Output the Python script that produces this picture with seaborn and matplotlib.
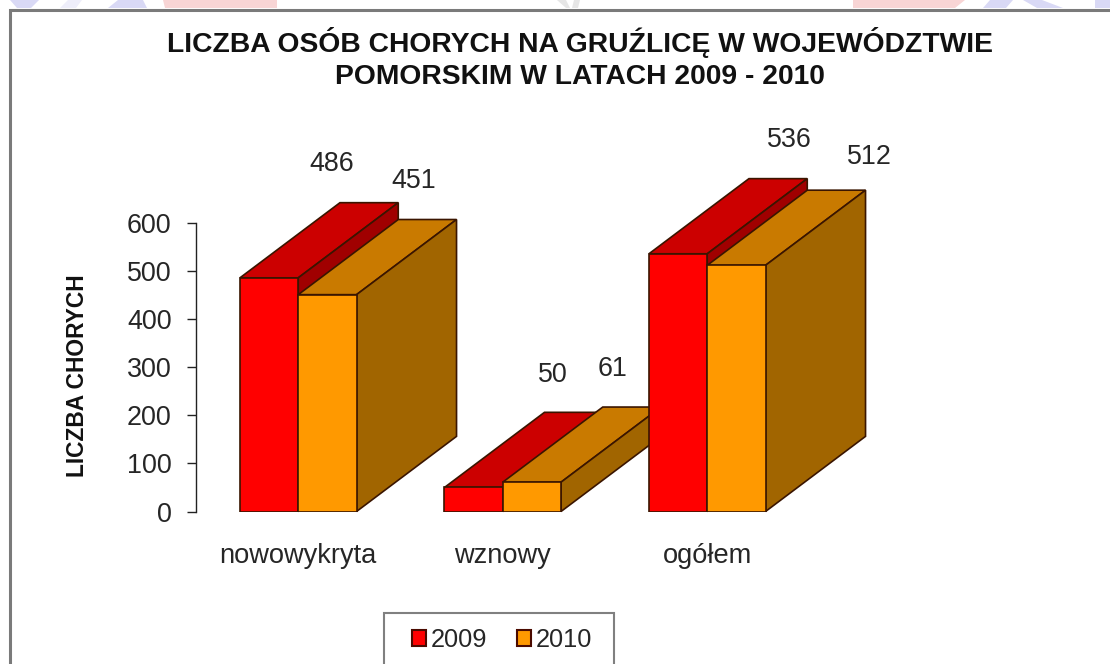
import matplotlib.pyplot as plt
import pandas as pd
import seaborn as sns
from matplotlib.patches import Patch, Polygon, Rectangle

categories = ['nowowykryta', 'wznowy', 'ogółem']
years = ['2009', '2010']
values_2009 = [486, 50, 536]
values_2010 = [451, 61, 512]
y_ticks = [0, 100, 200, 300, 400, 500, 600]
title = 'LICZBA OSÓB CHORYCH NA GRUŹLICĘ W WOJEWÓDZTWIE\nPOMORSKIM W LATACH 2009 - 2010'
y_label = 'LICZBA CHORYCH'

W, H = 1110, 664

# front, top and side colours of the fake 3D boxes
front = {'2009': '#ff0000', '2010': '#ff9900'}
top = {'2009': '#cc0000', '2010': '#c97a00'}
side = {'2009': '#a00000', '2010': '#a16500'}
edge = '#3a1500'

# value labels sit up and to the right of each bar, in pixels
label_dx = {'2009': [63, 79, 111], '2010': [86, 81, 133]}
label_dy = {'2009': [114, 112, 114], '2010': [114, 113, 108]}

sns.set_theme(style='white')
plt.rcParams['font.family'] = ['Liberation Sans', 'DejaVu Sans']

df = pd.DataFrame({
    'typ': categories * 2,
    'rok': [years[0]] * 3 + [years[1]] * 3,
    'liczba': values_2009 + values_2010,
})

fig = plt.figure(figsize=(W / 100, H / 100), dpi=100)
ax = fig.add_axes([196 / W, 1 - 511.5 / H, 613.5 / W, 288.5 / H])
ax.patch.set_alpha(0)

sns.barplot(data=df, x='typ', y='liczba', hue='rok', palette=front, width=0.57, gap=0,
            edgecolor=edge, linewidth=1.2, saturation=1, legend=False, ax=ax)
ax.set_xlim(-0.5, 2.5)
ax.set_ylim(0, 600)

# depth of the boxes, in data units
dx = 100 / 204.5
dy = 75 / 288 * 600

values = {'2009': values_2009, '2010': values_2010}
for i, year in enumerate(years):
    for j, bar in enumerate(ax.containers[i]):
        x0 = bar.get_x()
        x1 = x0 + bar.get_width()
        h = bar.get_height()
        z = 10 + 10 * j + 3 * i
        bar.set_zorder(z + 2)
        ax.add_patch(Polygon([(x0, h), (x1, h), (x1 + dx, h + dy), (x0 + dx, h + dy)], closed=True,
                             fc=top[year], ec=edge, lw=1.2, zorder=z, clip_on=False))
        ax.add_patch(Polygon([(x1, 0), (x1 + dx, dy), (x1 + dx, h + dy), (x1, h)], closed=True,
                             fc=side[year], ec=edge, lw=1.2, zorder=z + 1, clip_on=False))
        ax.annotate(str(values[year][j]), xy=((x0 + x1) / 2, h),
                    xytext=(label_dx[year][j] * 0.72, label_dy[year][j] * 0.72), textcoords='offset points',
                    ha='center', va='center', fontsize=19.4, color='#262626', zorder=100, annotation_clip=False)

ax.set_yticks(y_ticks)
ax.tick_params(axis='y', left=True, length=6.5, width=1, color='#222222', pad=11, labelsize=19.4, labelcolor='#262626')
ax.tick_params(axis='x', bottom=False, pad=17, labelsize=19.6, labelcolor='#262626')
ax.set_xlabel('')
ax.set_ylabel('')
for s in ['top', 'right', 'bottom']:
    ax.spines[s].set_visible(False)
ax.spines['left'].set_color('#222222')
ax.spines['left'].set_linewidth(1)

fig.text(580 / W, 1 - 58.5 / H, title, ha='center', va='center', fontsize=20.3, fontweight='bold',
         color='#111111', linespacing=1.3)
fig.text(78 / W, 1 - 376 / H, y_label, rotation=90, ha='center', va='center', fontsize=16.4,
         fontweight='bold', color='#111111')

# frame of the embedded chart
fig.add_artist(Rectangle((9.5 / W, -0.05), 1.2, 1 - 9.5 / H + 0.05, transform=fig.transFigure, fill=False,
                         ec='#7a7a7a', lw=2.2))

# scraps of the slide background above the frame
for color, pts in [
    ('#d9d9f5', [(10, 0), (17, 8), (31, 8), (39, 0)]),
    ('#eeeefa', [(60, 8), (76, 8), (82, 0), (68, 0)]),
    ('#d9d9f5', [(108, 8), (147, 8), (143, 0), (118, 0)]),
    ('#f8d5d5', [(165, 8), (277, 8), (277, 0), (163, 0)]),
    ('#e6e6e6', [(557, 0), (566, 8), (570, 8), (566, 0)]),
    ('#e6e6e6', [(572, 8), (578, 8), (580, 0), (574, 0)]),
    ('#f8d5d5', [(853, 8), (955, 8), (965, 0), (853, 0)]),
    ('#d9d9f5', [(983, 8), (1006, 8), (1013, 0), (990, 0)]),
    ('#d9d9f5', [(1037, 8), (1063, 8), (1042, 0), (1023, 0)]),
    ('#d9d9f5', [(1095, 8), (1110, 8), (1110, 0), (1095, 0)]),
]:
    fig.add_artist(Polygon([(x / W, 1 - y / H) for x, y in pts], closed=True, transform=fig.transFigure,
                           fc=color, ec='none'))

# legend box runs off the bottom of the picture
fig.add_artist(Rectangle((383.5 / W, -0.05), 230 / W, 1 - 612.5 / H + 0.05, transform=fig.transFigure,
                         fc='white', ec='#808080', lw=1.5))
handles = [Patch(fc=front[y], ec='#4a0a00', lw=1.5, label=y) for y in years]
leg = fig.legend(handles=handles, loc='center', bbox_to_anchor=(502 / W, 1 - 640 / H), borderaxespad=0,
                 ncol=2, frameon=False, fontsize=18.3, handlelength=0.55, handleheight=0.55,
                 handletextpad=0.2, columnspacing=1.15, labelcolor='#262626')

fig.savefig('out.png', dpi=100)
